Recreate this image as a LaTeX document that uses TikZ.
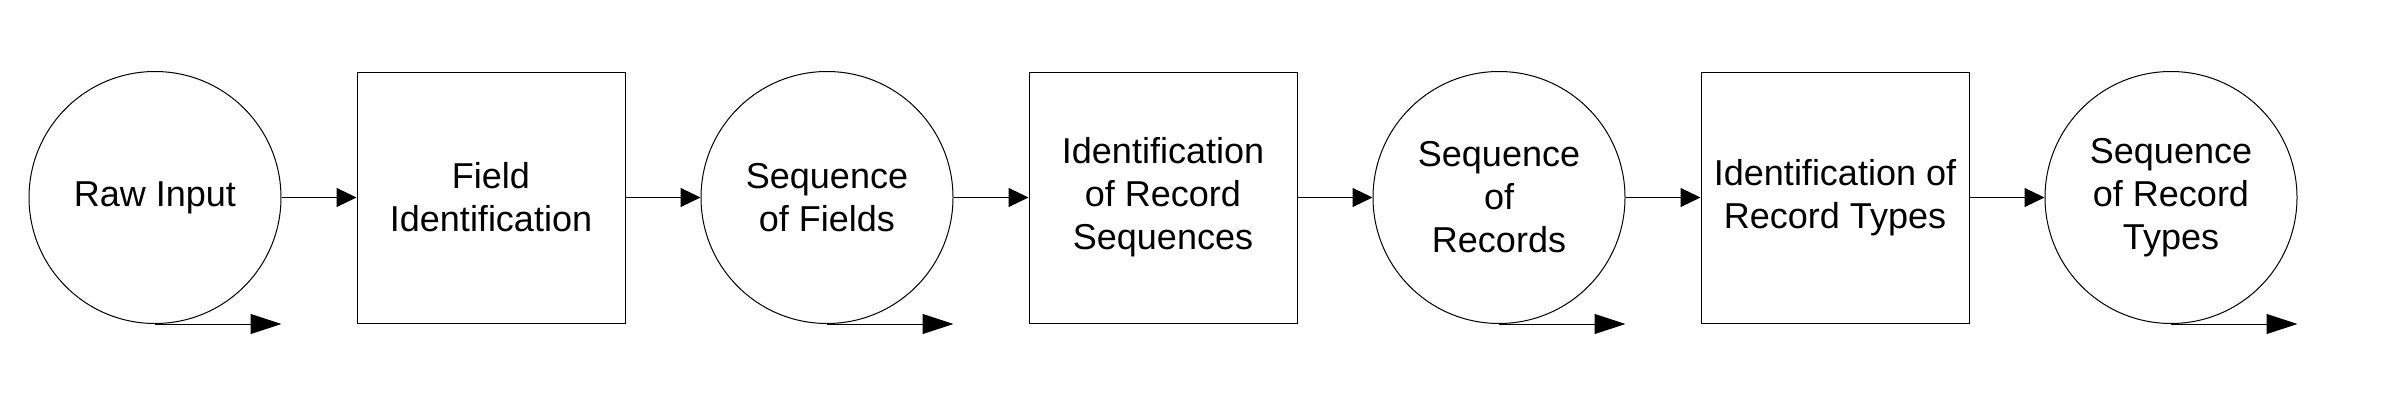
\documentclass[tikz,border=0pt]{standalone}
\usepackage{fontspec}
\setmainfont{Liberation Sans}
\usetikzlibrary{arrows.meta}
\usetikzlibrary{positioning}

\begin{document}
\begin{tikzpicture}[
    x=1pt, y=1pt,
    node distance=37.5pt,
    every node/.style={font=\fontsize{18}{21.5}\selectfont, align=center},
    data/.style={draw, line width=0.5pt, circle, minimum size=126pt, inner sep=0pt},
    process/.style={draw, line width=0.5pt, rectangle,
      minimum width=134pt, minimum height=125.5pt, inner sep=0pt},
    flow/.style={-{Triangle[length=10pt, width=9.5pt]}, line width=0.5pt},
    spill/.style={-{Triangle[length=15.5pt, width=10pt]}, line width=0.5pt}]

    \useasboundingbox (0, 0) rectangle (1200, 209.5);

    \node [data] (raw) at (77.5, 110.75) {Raw Input};
    \node [process, right=of raw] (fieldid) {Field\\Identification};
    \node [data, right=of fieldid] (fields) {Sequence\\of Fields};
    \node [process, right=of fields] (seqid) {Identification\\of Record\\Sequences};
    \node [data, right=of seqid] (records) {Sequence\\of\\Records};
    \node [process, right=of records] (typeid) {Identification of\\Record Types};
    \node [data, right=of typeid] (types) {Sequence\\of Record\\Types};

    \foreach \a/\b in {raw/fieldid, fieldid/fields, fields/seqid,
      seqid/records, records/typeid, typeid/types} {
      \draw [flow] (\a) -- (\b);
    }

    \foreach \n in {raw, fields, records, types} {
      \draw [spill] (\n.south) -- (\n.south -| \n.east);
    }

  \end{tikzpicture}
\end{document}
